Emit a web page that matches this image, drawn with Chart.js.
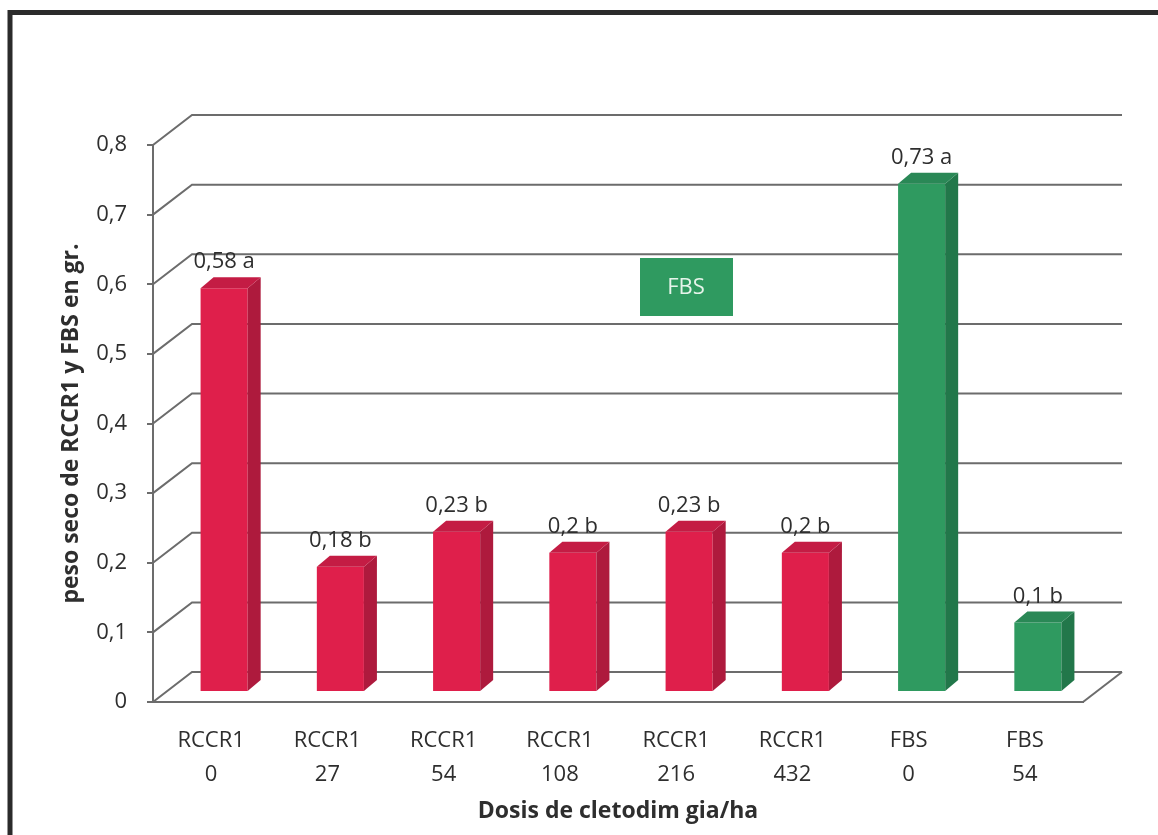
<!DOCTYPE html>
<html lang="es">
<head>
  <meta charset="UTF-8" />
  <title>Peso seco RCCR1 y FBS</title>
  <script src="https://cdn.jsdelivr.net/npm/chart.js"></script>
  <style>
    html, body { margin: 0; padding: 0; background: #fff; }
    #wrap { position: relative; width: 1158px; height: 835px; }
  </style>
</head>
<body>
  <div id="wrap">
    <canvas id="chart" width="1158" height="835"></canvas>
  </div>

  <script>
    // data
    const groups = ['RCCR1', 'RCCR1', 'RCCR1', 'RCCR1', 'RCCR1', 'RCCR1', 'FBS', 'FBS'];
    const doses = ['0', '27', '54', '108', '216', '432', '0', '54'];
    const pesoSeco = [0.58, 0.18, 0.23, 0.20, 0.23, 0.20, 0.73, 0.10];
    const letras = ['a', 'b', 'b', 'b', 'b', 'b', 'a', 'b'];
    const yTicks = [0, 0.1, 0.2, 0.3, 0.4, 0.5, 0.6, 0.7, 0.8];

    // colours: front / side / top
    const RED = ['#df1f4b', '#ae1a3d', '#c41c44'];
    const GREEN = ['#2f9a60', '#22774a', '#2a8856'];
    const barColors = groups.map(g => g === 'FBS' ? GREEN : RED);

    const FONT = "'Open Sans', sans-serif";
    const GRID = '#6c6c6c';
    const TXT = '#2e2e2e';

    // 3D box depth and position of bars inside it
    const DX = 39, DY = -30;
    const BX = 13, BY = -10;      // bar front plane offset
    const SX = 13, SY = -11;      // bar depth

    const fmt = v => String(v).replace('.', ',');

    const wallPlugin = {
      id: 'wall',
      beforeDatasetsDraw(chart) {
        const { ctx, chartArea: a, scales: { y } } = chart;
        ctx.save();
        ctx.strokeStyle = GRID;
        ctx.lineWidth = 2;
        yTicks.forEach(v => {
          const py = y.getPixelForValue(v);
          ctx.beginPath();
          ctx.moveTo(a.left, py);
          ctx.lineTo(a.left + DX, py + DY);
          ctx.lineTo(a.right + DX, py + DY);
          ctx.stroke();
        });
        // floor right edge
        const p0 = y.getPixelForValue(0);
        ctx.beginPath();
        ctx.moveTo(a.right, p0);
        ctx.lineTo(a.right + DX, p0 + DY);
        ctx.stroke();
        ctx.restore();

        // shift the library's bars onto the middle plane
        ctx.save();
        ctx.translate(BX, BY);
      },
      afterDatasetsDraw(chart) {
        const { ctx } = chart;
        ctx.restore();
        const meta = chart.getDatasetMeta(0);
        ctx.save();
        meta.data.forEach((bar, i) => {
          const c = barColors[i];
          const x0 = bar.x - bar.width / 2 + BX, x1 = bar.x + bar.width / 2 + BX;
          const yt = bar.y + BY, yb = bar.base + BY;
          // side
          ctx.fillStyle = c[1];
          ctx.beginPath();
          ctx.moveTo(x1, yt); ctx.lineTo(x1 + SX, yt + SY);
          ctx.lineTo(x1 + SX, yb + SY); ctx.lineTo(x1, yb);
          ctx.closePath(); ctx.fill();
          // top
          ctx.fillStyle = c[2];
          ctx.beginPath();
          ctx.moveTo(x0, yt); ctx.lineTo(x0 + SX, yt + SY);
          ctx.lineTo(x1 + SX, yt + SY); ctx.lineTo(x1, yt);
          ctx.closePath(); ctx.fill();
          // value label
          ctx.fillStyle = TXT;
          ctx.font = '22px ' + FONT;
          ctx.textAlign = 'center';
          ctx.textBaseline = 'middle';
          ctx.fillText(fmt(pesoSeco[i]) + ' ' + letras[i], (x0 + x1) / 2, yt - 26);
        });

        // the lone "FBS" legend box
        ctx.fillStyle = GREEN[0];
        ctx.fillRect(640, 258, 93, 58);
        ctx.fillStyle = '#e6f4ea';
        ctx.font = '22px ' + FONT;
        ctx.textAlign = 'center';
        ctx.textBaseline = 'middle';
        ctx.fillText('FBS', 686, 288);

        // frame of the scanned figure
        ctx.strokeStyle = '#2b2b2b';
        ctx.lineWidth = 5;
        ctx.beginPath();
        ctx.moveTo(10, 835);
        ctx.lineTo(10, 12.5);
        ctx.lineTo(1158, 12.5);
        ctx.stroke();
        ctx.restore();
      }
    };

    const ctx = document.getElementById('chart').getContext('2d');
    new Chart(ctx, {
      type: 'bar',
      data: {
        labels: groups.map((g, i) => [g, doses[i]]),
        datasets: [{
          data: pesoSeco,
          backgroundColor: barColors.map(c => c[0]),
          borderWidth: 0,
          categoryPercentage: 1,
          barPercentage: 0.405
        }]
      },
      options: {
        responsive: false,
        animation: false,
        layout: { padding: { left: 0, right: 75, top: 145, bottom: 0 } },
        plugins: { legend: { display: false }, tooltip: { enabled: false } },
        scales: {
          x: {
            afterFit: s => { s.height = 133; },
            grid: { display: false },
            border: { display: true, color: GRID, width: 2 },
            ticks: {
              color: TXT,
              font: { family: FONT, size: 22, lineHeight: 1.55 },
              padding: 14,
              maxRotation: 0,
              autoSkip: false
            },
            title: {
              display: true,
              text: 'Dosis de cletodim gia/ha',
              color: TXT,
              font: { family: FONT, size: 23, weight: 'bold' },
              padding: { top: 0, bottom: 10 }
            }
          },
          y: {
            min: 0,
            max: 0.8,
            afterFit: s => { s.width = 153; },
            afterBuildTicks: s => { s.ticks = yTicks.map(v => ({ value: v })); },
            grid: { drawOnChartArea: false, drawTicks: true, tickLength: 6, color: GRID, lineWidth: 2 },
            border: { display: true, color: GRID, width: 2 },
            ticks: {
              color: TXT,
              font: { family: FONT, size: 22 },
              padding: 20,
              callback: v => fmt(v)
            },
            title: {
              display: true,
              text: 'peso seco de RCCR1 y FBS en gr.',
              color: TXT,
              font: { family: FONT, size: 23, weight: 'bold' },
              padding: { top: 58, bottom: 0 }
            }
          }
        }
      },
      plugins: [wallPlugin]
    });
  </script>
</body>
</html>
